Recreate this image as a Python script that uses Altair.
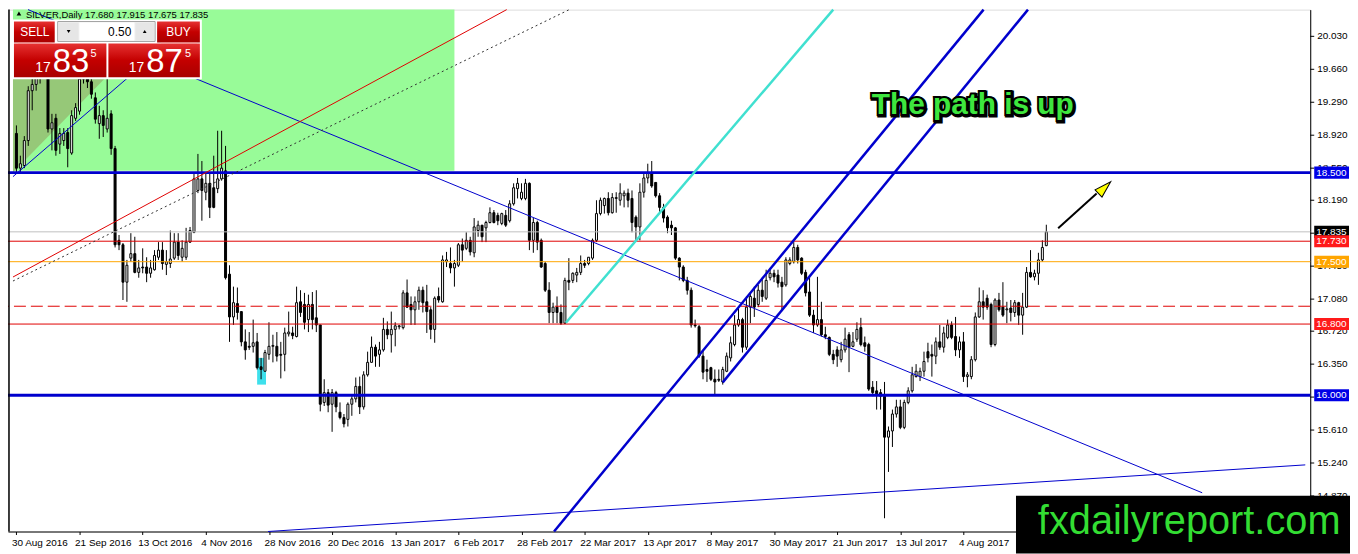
import json
import altair as alt
import pandas as pd

# ---------------- data ----------------
open_ = [
 18.94, 18.55, 18.58, 18.86, 19.42, 19.49, 19.56, 19.85, 19.70, 18.99,
 19.11, 18.82, 18.86, 18.95, 18.72, 19.11, 19.19, 19.55, 19.70, 19.52,
 19.34, 19.05, 19.14, 18.99, 19.16, 18.77, 17.74, 17.69, 17.27, 17.54,
 17.59, 17.38, 17.44, 17.44, 17.37, 17.41, 17.55, 17.63, 17.47, 17.48,
 17.54, 17.72, 17.55, 17.55, 17.72, 17.83, 18.30, 18.43, 18.28, 18.38,
 18.33, 18.32, 18.43, 18.52, 17.36, 16.88, 17.03, 16.94, 16.60, 16.55,
 16.55, 16.60, 16.32, 16.27, 16.46, 16.55, 16.55, 16.46, 16.46, 16.69,
 16.70, 16.66, 17.05, 17.02, 16.85, 17.02, 16.87, 16.79, 15.92, 16.03,
 15.90, 16.03, 15.81, 15.75, 15.73, 15.90, 15.96, 16.10, 15.87, 16.23,
 16.37, 16.54, 16.46, 16.51, 16.74, 16.68, 16.74, 16.77, 16.76, 17.15,
 17.02, 16.96, 17.05, 17.18, 17.05, 16.96, 16.74, 17.11, 17.05, 17.50,
 17.48, 17.43, 17.46, 17.69, 17.65, 17.74, 17.60, 17.85, 17.91, 17.88,
 17.94, 18.05, 18.02, 17.93, 18.02, 17.96, 18.15, 18.32, 18.21, 18.21,
 18.38, 17.74, 17.94, 17.74, 17.48, 17.18, 16.93, 16.99, 16.93, 16.81,
 17.29, 17.29, 17.35, 17.38, 17.48, 17.48, 17.54, 17.74, 18.04, 18.13,
 18.21, 18.05, 18.21, 18.19, 18.24, 18.27, 18.21, 18.00, 17.89, 18.28,
 18.44, 18.50, 18.39, 18.24, 18.11, 18.00, 17.91, 17.88, 17.54, 17.44,
 17.29, 17.18, 16.79, 16.77, 16.44, 16.29, 16.31, 16.18, 16.18, 16.15,
 16.27, 16.42, 16.57, 16.79, 16.85, 16.54, 16.99, 17.09, 17.02, 17.18,
 17.09, 17.32, 17.37, 17.35, 17.27, 17.24, 17.48, 17.50, 17.66, 17.54,
 17.38, 17.16, 16.90, 16.79, 16.85, 16.68, 16.65, 16.46, 16.51, 16.40,
 16.51, 16.68, 16.55, 16.63, 16.76, 16.59, 16.57, 16.09, 16.05, 16.03,
 15.99, 15.53, 15.60, 15.79, 15.87, 15.64, 15.92, 16.05, 16.21, 16.21,
 16.27, 16.49, 16.46, 16.44, 16.60, 16.54, 16.65, 16.79, 16.66, 16.51,
 16.60, 16.21, 16.21, 16.40, 16.88, 17.05, 17.09, 17.02, 16.57, 17.07,
 16.99, 16.96, 16.98, 16.93, 17.04, 16.90, 16.99, 17.38, 17.33, 17.37,
 17.52, 17.68]
high = [
 19.03, 18.69, 18.91, 19.47, 19.58, 19.64, 19.95, 19.95, 19.75, 19.16,
 19.16, 19.00, 19.00, 19.00, 19.20, 19.28, 19.62, 19.85, 19.75, 19.58,
 19.40, 19.25, 19.20, 19.56, 19.20, 18.80, 17.80, 17.71, 17.52, 17.82,
 17.78, 17.52, 17.65, 17.55, 17.52, 17.63, 17.72, 17.72, 17.63, 17.85,
 17.82, 17.82, 17.74, 17.88, 17.89, 18.49, 18.71, 18.63, 18.49, 18.49,
 18.69, 18.97, 18.97, 18.80, 17.46, 17.22, 17.21, 16.94, 16.74, 16.71,
 16.85, 16.70, 16.42, 16.51, 16.82, 16.68, 16.71, 16.60, 16.76, 16.94,
 16.77, 17.22, 17.18, 17.15, 17.13, 17.16, 17.18, 16.79, 16.18, 16.07,
 16.07, 16.05, 15.92, 15.79, 15.92, 15.99, 16.20, 16.21, 16.27, 16.49,
 16.66, 16.57, 16.60, 16.87, 16.83, 16.94, 16.82, 16.79, 17.18, 17.30,
 17.11, 17.11, 17.22, 17.22, 17.24, 16.99, 17.11, 17.21, 17.57, 17.61,
 17.66, 17.52, 17.71, 17.76, 17.83, 17.78, 17.99, 17.96, 17.91, 17.96,
 18.11, 18.08, 18.05, 18.05, 18.08, 18.19, 18.38, 18.44, 18.38, 18.43,
 18.39, 17.99, 17.96, 17.76, 17.50, 17.27, 17.04, 17.11, 17.02, 17.32,
 17.54, 17.38, 17.43, 17.57, 17.52, 17.55, 17.76, 18.19, 18.22, 18.22,
 18.28, 18.27, 18.28, 18.38, 18.30, 18.32, 18.30, 18.02, 18.38, 18.49,
 18.60, 18.63, 18.39, 18.27, 18.15, 18.02, 17.96, 17.89, 17.55, 17.46,
 17.33, 17.21, 16.85, 16.79, 16.51, 16.40, 16.32, 16.29, 16.29, 16.32,
 16.48, 16.66, 16.90, 16.98, 16.87, 17.11, 17.16, 17.22, 17.24, 17.32,
 17.41, 17.43, 17.41, 17.41, 17.33, 17.55, 17.55, 17.72, 17.69, 17.55,
 17.41, 17.33, 16.96, 17.33, 17.05, 16.77, 16.66, 16.51, 16.55, 16.60,
 16.76, 16.71, 16.71, 16.82, 16.87, 16.66, 16.59, 16.16, 16.16, 16.07,
 16.15, 15.65, 15.84, 15.95, 15.95, 15.95, 16.09, 16.32, 16.35, 16.31,
 16.49, 16.59, 16.57, 16.65, 16.79, 16.77, 16.85, 16.83, 16.88, 16.66,
 16.71, 16.26, 16.44, 16.93, 17.21, 17.18, 17.13, 17.04, 17.09, 17.15,
 17.27, 17.05, 17.07, 17.07, 17.05, 17.15, 17.44, 17.63, 17.41, 17.60,
 17.74, 17.915]
low = [
 18.50, 18.50, 18.55, 18.80, 19.20, 19.42, 19.50, 19.60, 18.95, 18.75,
 18.69, 18.71, 18.80, 18.56, 18.70, 19.08, 19.15, 19.50, 19.45, 19.33,
 19.05, 18.88, 18.90, 18.95, 18.70, 17.66, 17.63, 17.07, 17.05, 17.50,
 17.37, 17.32, 17.37, 17.27, 17.32, 17.40, 17.52, 17.41, 17.35, 17.43,
 17.52, 17.52, 17.50, 17.52, 17.71, 17.82, 18.27, 17.96, 18.19, 17.99,
 18.10, 18.27, 18.41, 17.30, 16.60, 16.79, 16.85, 16.55, 16.40, 16.51,
 16.48, 16.29, 16.18, 16.27, 16.40, 16.37, 16.38, 16.19, 16.27, 16.66,
 16.63, 16.65, 16.88, 16.74, 16.71, 16.74, 16.71, 15.82, 15.88, 15.81,
 15.59, 15.81, 15.73, 15.64, 15.65, 15.77, 15.92, 15.79, 15.84, 16.21,
 16.37, 16.32, 16.32, 16.49, 16.63, 16.48, 16.55, 16.74, 16.74, 16.98,
 16.79, 16.79, 16.96, 16.93, 16.70, 16.63, 16.59, 17.04, 17.04, 17.44,
 17.37, 17.22, 17.44, 17.50, 17.63, 17.57, 17.55, 17.78, 17.72, 17.72,
 17.93, 17.93, 17.91, 17.91, 17.89, 17.94, 18.13, 18.21, 18.19, 18.19,
 17.63, 17.60, 17.63, 17.43, 17.16, 16.81, 16.81, 16.81, 16.79, 16.80,
 17.18, 17.26, 17.27, 17.35, 17.43, 17.46, 17.52, 17.72, 18.02, 18.04,
 18.02, 18.04, 18.05, 18.13, 18.11, 18.11, 17.83, 17.74, 17.74, 18.22,
 18.38, 18.33, 18.22, 18.05, 17.94, 17.82, 17.80, 17.52, 17.29, 17.27,
 17.13, 16.76, 16.76, 16.42, 16.18, 16.15, 16.16, 16.01, 16.15, 16.12,
 16.26, 16.38, 16.55, 16.77, 16.48, 16.51, 16.81, 16.88, 16.99, 17.05,
 17.07, 17.29, 17.27, 17.21, 16.96, 17.22, 17.46, 17.48, 17.48, 17.35,
 17.11, 16.88, 16.70, 16.77, 16.66, 16.63, 16.44, 16.35, 16.32, 16.37,
 16.48, 16.26, 16.54, 16.60, 16.55, 16.49, 16.05, 15.99, 15.84, 15.84,
 14.62, 15.14, 15.42, 15.75, 15.62, 15.62, 15.90, 16.03, 16.20, 16.16,
 16.21, 16.37, 16.21, 16.35, 16.51, 16.48, 16.63, 16.63, 16.44, 16.42,
 16.15, 16.09, 16.18, 16.38, 16.87, 16.85, 16.96, 16.54, 16.55, 16.94,
 16.88, 16.81, 16.83, 16.88, 16.79, 16.68, 16.98, 17.32, 17.29, 17.24,
 17.50, 17.675]
close = [
 18.55, 18.60, 18.86, 19.42, 19.49, 19.56, 19.85, 19.70, 18.99, 19.06,
 18.75, 18.94, 18.94, 18.77, 19.14, 19.23, 19.55, 19.70, 19.52, 19.38,
 19.10, 19.14, 19.03, 19.11, 18.77, 17.69, 17.69, 17.27, 17.46, 17.59,
 17.38, 17.43, 17.43, 17.37, 17.43, 17.57, 17.63, 17.48, 17.50, 17.53,
 17.72, 17.57, 17.65, 17.72, 17.85, 18.43, 18.43, 18.30, 18.38, 18.11,
 18.11, 18.43, 18.55, 17.32, 16.88, 17.04, 16.93, 16.60, 16.51, 16.54,
 16.59, 16.31, 16.29, 16.48, 16.55, 16.56, 16.44, 16.45, 16.70, 16.71,
 16.67, 17.04, 16.93, 16.82, 17.02, 16.85, 16.79, 15.90, 16.03, 15.89,
 16.03, 15.87, 15.75, 15.68, 15.90, 15.96, 16.10, 15.87, 16.23, 16.37,
 16.54, 16.44, 16.51, 16.74, 16.68, 16.74, 16.78, 16.78, 17.15, 16.99,
 16.96, 17.05, 17.18, 17.04, 16.94, 16.74, 17.09, 17.07, 17.52, 17.52,
 17.43, 17.48, 17.69, 17.63, 17.74, 17.61, 17.89, 17.91, 17.78, 17.94,
 18.05, 17.94, 17.96, 18.04, 17.91, 18.15, 18.33, 18.38, 18.28, 18.38,
 17.74, 17.94, 17.72, 17.44, 17.18, 16.93, 16.99, 16.93, 16.81, 17.29,
 17.27, 17.37, 17.38, 17.48, 17.46, 17.55, 17.74, 18.04, 18.19, 18.21,
 18.05, 18.22, 18.22, 18.27, 18.27, 18.19, 17.94, 17.89, 18.28, 18.44,
 18.50, 18.35, 18.24, 18.11, 17.99, 17.88, 17.88, 17.54, 17.44, 17.29,
 17.18, 16.79, 16.78, 16.44, 16.26, 16.27, 16.18, 16.15, 16.17, 16.29,
 16.44, 16.59, 16.79, 16.85, 16.54, 16.99, 17.11, 16.99, 17.18, 17.11,
 17.29, 17.37, 17.33, 17.26, 17.22, 17.52, 17.52, 17.66, 17.52, 17.37,
 17.15, 16.90, 16.79, 16.85, 16.68, 16.66, 16.46, 16.40, 16.44, 16.51,
 16.63, 16.54, 16.60, 16.74, 16.57, 16.55, 16.07, 16.03, 16.01, 15.99,
 15.53, 15.60, 15.79, 15.87, 15.64, 15.92, 16.05, 16.23, 16.27, 16.27,
 16.38, 16.42, 16.44, 16.60, 16.54, 16.70, 16.79, 16.65, 16.51, 16.60,
 16.21, 16.23, 16.40, 16.88, 17.05, 16.99, 16.99, 16.57, 17.07, 16.96,
 16.90, 16.97, 16.93, 17.04, 16.90, 16.99, 17.38, 17.33, 17.37, 17.52,
 17.66, 17.835]

date_labels = ["30 Aug 2016", "21 Sep 2016", "13 Oct 2016", "4 Nov 2016",
               "28 Nov 2016", "20 Dec 2016", "13 Jan 2017", "6 Feb 2017",
               "28 Feb 2017", "22 Mar 2017", "13 Apr 2017", "8 May 2017",
               "30 May 2017", "21 Jun 2017", "13 Jul 2017", "4 Aug 2017"]
price_ticks = [20.03, 19.66, 19.29, 18.92, 18.55, 18.19, 17.82, 17.45,
               17.08, 16.72, 16.35, 15.98, 15.61, 15.24, 14.87]

level_prices = [17.835, 17.73, 17.5, 16.8]
level_colors = ["#c0c0c0", "#e00000", "#ffa500", "#e00000"]
dashed_level = [17.0]
support_levels = [18.5, 16.0]

box_prices = [18.5, 17.835, 17.73, 17.5, 16.8, 16.0]
box_colors = ["#0000e6", "#000000", "#ff1a1a", "#ffa500", "#ff1a1a", "#0000e6"]
box_texts = ["18.500", "17.835", "17.730", "17.500", "16.800", "16.000"]

# trend lines: (bar index, price) -> (bar index, price)
thin_blue = [(2.93, 20.33, 300.5, 14.906), (-0.875, 18.455, 34.25, 19.795),
             (63.75, 14.471, 326.625, 15.219)]
thick_blue = [(136.25, 14.471, 245.1, 20.33), (179.0, 16.145, 256.35, 20.33)]
red_line = [(-0.875, 17.328, 124.25, 20.33)]
dotted_line = [(-0.875, 17.283, 140.1, 20.33)]
cyan_line = [(139.25, 16.815, 207.0, 20.33)]
arrow_line = [(264.0, 17.875, 273.75, 18.266)]
arrow_head = [(275.5, 18.32)]
green_zone = [(-0.875, 111.0, 18.52, 20.33)]
dark_zone_x = [-0.875, 24.25]
dark_zone_lo = [18.50, 19.64]
dark_zone_hi = [19.90, 19.90]
cyan_box = [(61.0, 63.25, 16.42, 16.12)]
caption = [(216.75, 19.158, "The path is up")]

# ---------------- chart ----------------
W, H = 1310, 525
XS = alt.Scale(domain=[-0.875, 326.625], nice=False, zero=False)
YS = alt.Scale(domain=[14.471, 20.33], nice=False, zero=False)
FONT = "Liberation Sans"

n = len(close)
assert len(open_) == n and len(high) == n and len(low) == n
candles = pd.DataFrame({"i": list(range(n)), "o": open_, "h": high, "l": low, "c": close})

label_expr = json.dumps(date_labels) + "[round(datum.value / 16)]"


def XQ(f):
    return alt.X(f, type="quantitative", scale=XS, title=None)


def YQ(f):
    return alt.Y(f, type="quantitative", scale=YS, title=None)


def seg_layer(segs, **mk):
    df = pd.DataFrame(segs, columns=["x1", "y1", "x2", "y2"])
    return alt.Chart(df).mark_rule(**mk).encode(
        x=XQ("x1"), x2="x2:Q", y=YQ("y1"), y2="y2:Q")


one = pd.DataFrame({"k": [0]})


def rect_px(x, x2, y, y2, **mk):
    return alt.Chart(one).mark_rect(**mk).encode(
        x=alt.value(x), x2=alt.value(x2), y=alt.value(y), y2=alt.value(y2))


def text_px(x, y, txt, **mk):
    return alt.Chart(one).mark_text(text=txt, font=FONT, **mk).encode(
        x=alt.value(x), y=alt.value(y))


red_grad = alt.LinearGradient(
    gradient="linear", x1=0, x2=0, y1=0, y2=1,
    stops=[alt.GradientStop(color="#e63232", offset=0),
           alt.GradientStop(color="#c40000", offset=0.5),
           alt.GradientStop(color="#a80000", offset=1)])

# background zones
gz = pd.DataFrame(green_zone, columns=["x1", "x2", "y1", "y2"])
zone = alt.Chart(gz).mark_rect(color="#98fb98").encode(
    x=XQ("x1"), x2="x2:Q", y=YQ("y1"), y2="y2:Q")
dz = pd.DataFrame({"x": dark_zone_x, "lo": dark_zone_lo, "hi": dark_zone_hi})
dark = alt.Chart(dz).mark_area(color="#96c878").encode(
    x=XQ("x"), y=YQ("lo"), y2="hi:Q")
cb = pd.DataFrame(cyan_box, columns=["x1", "x2", "y1", "y2"])
cyanbox = alt.Chart(cb).mark_rect(color="#3ee0ec").encode(
    x=XQ("x1"), x2="x2:Q", y=YQ("y1"), y2="y2:Q")

layers = [zone, dark, cyanbox]

# candles: wicks carry the axes
base = alt.Chart(candles)
layers.append(base.mark_rule(color="black", strokeWidth=1).encode(
    x=alt.X("i:Q", scale=XS, title=None, axis=alt.Axis(
        values=list(range(0, 16 * len(date_labels), 16)), labelExpr=label_expr,
        orient="bottom", labelAlign="left", labelBaseline="top", labelPadding=3,
        labelOffset=-5, tickSize=3, tickColor="black", domainColor="black",
        labelColor="black", labelFont=FONT, labelFontSize=10, grid=False,
        title=None, labelOverlap=False, labelFlush=False, zindex=0)),
    y=alt.Y("l:Q", scale=YS, title=None, axis=alt.Axis(
        orient="right", labels=False, ticks=False, domainColor="black",
        grid=False, title=None, zindex=0)),
    y2="h:Q"))
layers.append(base.mark_bar(size=2, stroke="black", strokeWidth=1).encode(
    x=XQ("i"), y=YQ("o"), y2="c:Q",
    fill=alt.condition("datum.c >= datum.o", alt.value("white"), alt.value("black"))))

# horizontal levels
lv = pd.DataFrame({"p": level_prices, "col": level_colors})
layers.append(alt.Chart(lv).mark_rule(strokeWidth=1).encode(
    y=YQ("p"), color=alt.Color("col:N", scale=None)))
layers.append(alt.Chart(pd.DataFrame({"p": dashed_level})).mark_rule(
    strokeWidth=1, color="#e00000", strokeDash=[12, 5]).encode(y=YQ("p")))
layers.append(alt.Chart(pd.DataFrame({"p": support_levels})).mark_rule(
    strokeWidth=3, color="#0000cd").encode(y=YQ("p")))

# trend lines
layers.append(seg_layer(thin_blue, color="#0000cd", strokeWidth=1))
layers.append(seg_layer(red_line, color="#e00000", strokeWidth=1))
layers.append(seg_layer(dotted_line, color="#303030", strokeWidth=1, strokeDash=[2, 3]))
layers.append(seg_layer(cyan_line, color="#40e0d0", strokeWidth=2.5))
layers.append(seg_layer(thick_blue, color="#0000cd", strokeWidth=2.5))

# arrow
layers.append(seg_layer(arrow_line, color="black", strokeWidth=2))
ah = pd.DataFrame(arrow_head, columns=["x", "y"])
layers.append(alt.Chart(ah).mark_point(
    shape="M0,-1L0.5,0.7L-0.5,0.7Z", size=400, angle=46, filled=True,
    fill="#ffff00", stroke="black", strokeWidth=1, opacity=1).encode(
    x=XQ("x"), y=YQ("y")))

# caption
cp = pd.DataFrame(caption, columns=["x", "y", "t"])
for extra in [dict(stroke="black", strokeWidth=5, fill="black", dx=1, dy=1),
              dict(stroke="black", strokeWidth=4, fill="black"),
              dict(fill="#3ee63e")]:
    layers.append(alt.Chart(cp).mark_text(
        font=FONT, fontSize=30, fontWeight="bold", align="left",
        baseline="alphabetic", **extra).encode(
        x=XQ("x"), y=YQ("y"), text="t:N"))

# right price scale: ticks and labels
pt = pd.DataFrame({"p": price_ticks})
layers.append(alt.Chart(pt).mark_rule(color="black", strokeWidth=1).encode(
    x=alt.value(W), x2=alt.value(W + 4), y=YQ("p")))
layers.append(alt.Chart(pt).transform_calculate(
    lab="format(datum.p, '.3f')").mark_text(
    font=FONT, fontSize=10, color="black", align="left", baseline="middle").encode(
    x=alt.value(W + 7), y=YQ("p"), text="lab:N"))

# price label boxes on the right axis
bx = pd.DataFrame({"p": box_prices, "col": box_colors, "t": box_texts})
bx_base = alt.Chart(bx).transform_calculate(
    top="datum.p + 0.068", bot="datum.p - 0.068")
layers.append(bx_base.mark_rect().encode(
    x=alt.value(W + 4), x2=alt.value(W + 39),
    y=YQ("top"), y2="bot:Q",
    color=alt.Color("col:N", scale=None)))
layers.append(bx_base.mark_text(font=FONT, fontSize=10, color="white",
                                align="left", baseline="middle").encode(
    x=alt.value(W + 6), y=YQ("p"), text="t:N"))

# left border of the chart window
layers.append(alt.Chart(one).mark_rule(color="black", strokeWidth=1.5).encode(
    x=alt.value(1), y=alt.value(0), y2=alt.value(H)))

# header line
header = "SILVER,Daily  %.3f %.3f %.3f %.3f" % (open_[-1], high[-1], low[-1], close[-1])
layers.append(alt.Chart(one).mark_point(shape="triangle-up", size=22, filled=True,
                                        color="black", opacity=1).encode(
    x=alt.value(11), y=alt.value(4)))
layers.append(text_px(18, 0, header, fontSize=9.5, align="left", baseline="top", color="black"))

# one-click trading panel
layers.append(rect_px(4, 195, 10, 70, color="white"))
layers.append(rect_px(6, 47, 12, 33, color=red_grad))
layers.append(rect_px(150, 193, 12, 33, color=red_grad))
layers.append(rect_px(50, 148, 12, 32, color="#f4f4f4", stroke="#a0a0a0", strokeWidth=1))
layers.append(rect_px(51, 71, 13, 31, color="#e6e6e6"))
layers.append(rect_px(128, 147, 13, 31, color="#e6e6e6"))
layers.append(rect_px(72, 127, 13, 31, color="white"))
layers.append(rect_px(6, 99, 34, 68, color=red_grad))
layers.append(rect_px(101, 193, 34, 68, color=red_grad))
layers.append(rect_px(10, 44, 33, 34, color="#f08080"))
layers.append(rect_px(154, 190, 33, 34, color="#f08080"))
layers.append(alt.Chart(one).mark_point(shape="triangle-down", size=14, filled=True,
                                        color="black", opacity=1).encode(
    x=alt.value(61), y=alt.value(22)))
layers.append(alt.Chart(one).mark_point(shape="triangle-up", size=14, filled=True,
                                        color="black", opacity=1).encode(
    x=alt.value(137.5), y=alt.value(22)))
layers.append(text_px(124, 22.5, "0.50", fontSize=12, align="right", baseline="middle", color="black"))
layers.append(text_px(27, 22.5, "SELL", fontSize=12, align="center", baseline="middle", color="white"))
layers.append(text_px(171.5, 22.5, "BUY", fontSize=12, align="center", baseline="middle", color="white"))
for (x17, xbig, x5, big) in [(43, 45, 83, "83"), (137, 139, 178, "87")]:
    layers.append(text_px(x17, 63, "17", fontSize=14, align="right", baseline="alphabetic", color="white"))
    layers.append(text_px(xbig, 63, big, fontSize=33, align="left", baseline="alphabetic", color="white"))
    layers.append(text_px(x5, 48, "5", fontSize=11, align="left", baseline="alphabetic", color="white"))

# watermark
layers.append(rect_px(1014, 1352, 489, 547, color="black"))
layers.append(text_px(1036, 528, "fxdailyreport.com", fontSize=40, align="left",
                      baseline="alphabetic", color="#33dd33"))

chart = alt.layer(*layers).properties(
    width=W, height=H,
    autosize=alt.AutoSizeParams(type="none"),
    padding={"left": 0, "top": 0, "right": 40, "bottom": 21},
).configure_view(stroke=None).configure(background="white").configure_axis(
    labelOverlap=False, labelFlush=False)

chart.save("out.html", embed_options={"renderer": "svg", "actions": False})
